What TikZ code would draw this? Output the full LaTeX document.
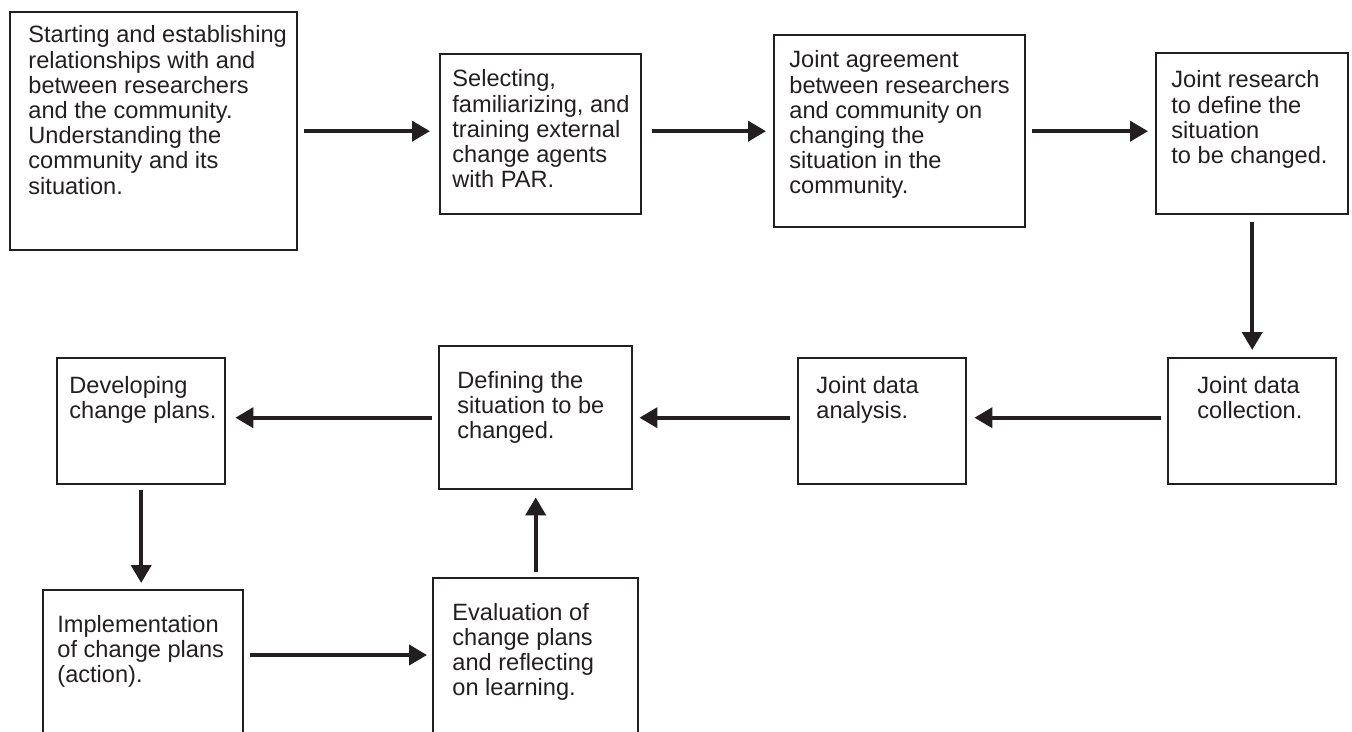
\documentclass[tikz,border=0pt]{standalone}
\usepackage{fontspec}
\setmainfont{Liberation Sans}
\usetikzlibrary{arrows.meta}
\definecolor{ink}{RGB}{35,31,32}
\newcommand{\stagelines}[1]{\begin{tabular}[t]{@{}l@{}}#1\end{tabular}}
\tikzset{
	stage/.style={draw=ink, line width=1.2pt, inner sep=0pt, anchor=north west},
	stagetext/.style={anchor=base west, inner sep=0pt, text=ink, font=\fontsize{11.8}{12.6}\selectfont},
	flow/.style={draw=ink, line width=2pt, -{Triangle[length=9pt,width=10pt]}, shorten <=3pt, shorten >=3.5pt},
}
\begin{document}
\begin{tikzpicture}[x=0.5pt,y=0.5pt,yscale=-1,xscale=1]
			\useasboundingbox (0,0) rectangle (1352,732);
			\clip (0,0) rectangle (1352,732);
			\node[stage, minimum width=143.5pt, minimum height=119pt] (start) at (9,11) {};
			\node[stage, minimum width=100.5pt, minimum height=80pt] (select) at (439,53) {};
			\node[stage, minimum width=125.5pt, minimum height=96pt] (agree) at (773,34) {};
			\node[stage, minimum width=96pt, minimum height=80.5pt] (research) at (1155,52) {};
			\node[stage, minimum width=84pt, minimum height=63pt] (collect) at (1167,357) {};
			\node[stage, minimum width=84pt, minimum height=63pt] (analysis) at (797,357) {};
			\node[stage, minimum width=96.5pt, minimum height=71.5pt] (define) at (438,345) {};
			\node[stage, minimum width=84pt, minimum height=63pt] (develop) at (56,357) {};
			\node[stage, minimum width=100pt, minimum height=85pt] (implement) at (42,589) {};
			\node[stage, minimum width=102.5pt, minimum height=90pt] (evaluate) at (432,577) {};
			
			
			\node[stagetext] (startText) at (28,43) {\stagelines{Starting and establishing\\relationships with and\\between researchers\\and the community.\\Understanding the\\community and its\\situation.}};
			\node[stagetext] (selectText) at (452,87) {\stagelines{Selecting,\\familiarizing, and\\training external\\change agents\\with PAR.}};
			\node[stagetext] (agreeText) at (789,68) {\stagelines{Joint agreement\\between researchers\\and community on\\changing the\\situation in the\\community.}};
			\node[stagetext] (researchText) at (1171,88) {\stagelines{Joint research\\to define the\\situation\\to be changed.}};
			\node[stagetext] (collectText) at (1197,393) {\stagelines{Joint data\\collection.}};
			\node[stagetext] (analysisText) at (816,393) {\stagelines{Joint data\\analysis.}};
			\node[stagetext] (defineText) at (457,388) {\stagelines{Defining the\\situation to be\\changed.}};
			\node[stagetext] (developText) at (69,393) {\stagelines{Developing\\change plans.}};
			\node[stagetext] (implementText) at (57,632) {\stagelines{Implementation\\of change plans\\(action).}};
			\node[stagetext] (evaluateText) at (452,620) {\stagelines{Evaluation of\\change plans\\and reflecting\\on learning.}};
			
			
			\draw[flow, shorten >=4.5pt] (start.east) -- (start.east -| select.west);
			\draw[flow, shorten <=5pt] (agree.west -| select.east) -- (agree.west);
			\draw[flow] (agree.east) -- (agree.east -| research.west);
			\draw[flow, shorten <=3.5pt] (research.south) -- (research.south |- collect.north);
			\draw[flow] (define.east -| collect.west) -- (define.east -| analysis.east);
			\draw[flow, shorten <=3.5pt, shorten >=3pt] (define.east -| analysis.west) -- (define.east);
			\draw[flow, shorten >=4.5pt] (define.west) -- (define.west -| develop.east);
			\draw[flow, shorten <=2.5pt, shorten >=3pt] (develop.south) -- (develop.south |- implement.north);
			\draw[flow, shorten >=2.5pt] ([yshift=33pt]implement.north east) -- ([yshift=33pt]implement.north east -| evaluate.west);
			\draw[flow, shorten <=2.5pt] (evaluate.north) -- (evaluate.north |- define.south);
			\end{tikzpicture}
\end{document}
